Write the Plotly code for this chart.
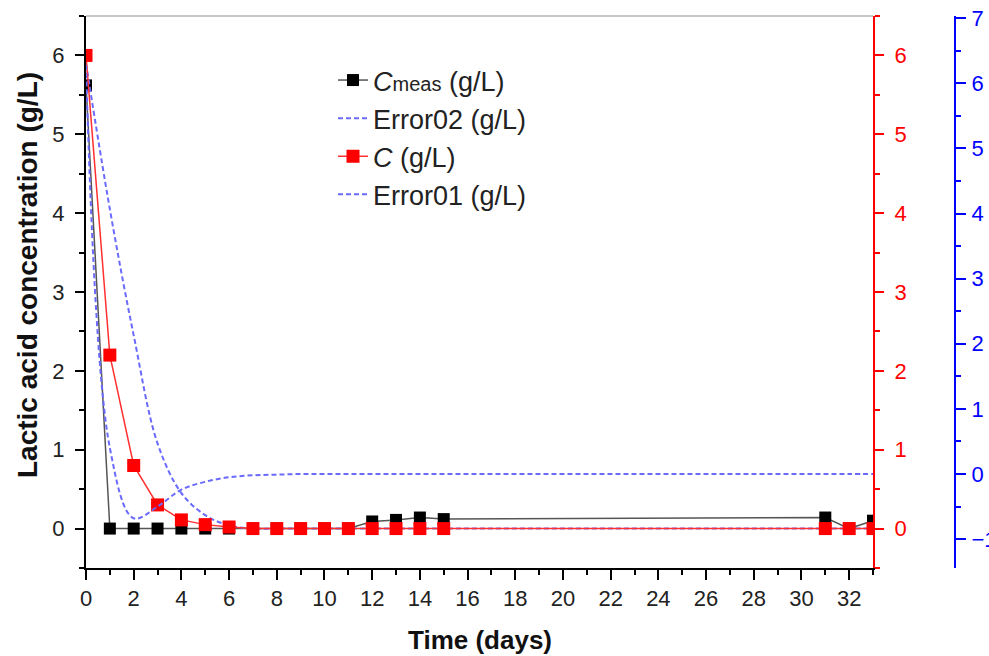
import plotly.graph_objects as go

# ---------------- data ----------------
days = [0, 1, 2, 3, 4, 5, 6, 7, 8, 9, 10, 11, 12, 13, 14, 15, 31, 32, 33]
c_meas = [5.62, 0, 0, 0, 0, 0, 0, 0, 0, 0, 0, 0, 0.09, 0.11, 0.14, 0.12, 0.14, 0, 0.10]
c_model = [6.0, 2.2, 0.8, 0.3, 0.11, 0.05, 0.02, 0, 0, 0, 0, 0, 0, 0, 0, 0, 0, 0, 0]

err_days = list(range(0, 34))
error02 = [5.9, 4.05, 2.45, 1.08, 0.45, 0.17, 0.04, 0.0, 0.0, 0.0,
           0, 0, 0, 0, 0, 0, 0, 0, 0, 0, 0, 0, 0, 0, 0, 0, 0, 0, 0, 0, 0, 0, 0, 0]
error01 = [6.28, 0.4, -0.68, -0.5, -0.24, -0.12, -0.05, -0.02, -0.01, 0.0,
           0, 0, 0, 0, 0, 0, 0, 0, 0, 0, 0, 0, 0, 0, 0, 0, 0, 0, 0, 0, 0, 0, 0, 0]

x_ticks = list(range(0, 34, 2))
left_ticks = [0, 1, 2, 3, 4, 5, 6]
blue_ticks = [-1, 0, 1, 2, 3, 4, 5, 6, 7]

# ---------------- figure ----------------
W, H = 989, 656
ML, MR, MT, MB = 86, 14, 16, 88
pw = W - ML - MR
ph = H - MT - MB
xdom_end = (873 - ML) / pw
blue_pos = (955 - ML) / pw

FONT = "Arial, Liberation Sans, sans-serif"
BLUE = "#6a6aff"

fig = go.Figure()

fig.add_trace(go.Scatter(
    x=days, y=c_meas, mode="lines+markers", name="<i>C</i><span style='font-size:20px'>meas</span> (g/L)",
    line=dict(color="#555555", width=1.5),
    marker=dict(symbol="square", size=12, color="black"),
    legendgroup="a", yaxis="y"))

fig.add_trace(go.Scatter(
    x=err_days, y=error02, mode="lines", name="Error02 (g/L)",
    line=dict(color=BLUE, width=2, dash="5px,3px", shape="spline"),
    legendgroup="b", yaxis="y"))

fig.add_trace(go.Scatter(
    x=days, y=c_model, mode="lines+markers", name="<i>C</i> (g/L)",
    line=dict(color="#ff3030", width=1.5),
    marker=dict(symbol="square", size=13, color="#ff0000"),
    legendgroup="c", yaxis="y2"))

fig.add_trace(go.Scatter(
    x=err_days, y=error01, mode="lines", name="Error01 (g/L)",
    line=dict(color=BLUE, width=2, dash="5px,3px", shape="spline"),
    legendgroup="d", yaxis="y3"))

tickfont = dict(family=FONT, size=22, color="#222222")

fig.update_layout(
    width=W, height=H,
    margin=dict(l=ML, r=MR, t=MT, b=MB, autoexpand=False),
    paper_bgcolor="white", plot_bgcolor="white",
    font=dict(family=FONT),
    showlegend=True,
    legend=dict(x=(333 - ML) / pw, y=1 - (56 - MT) / ph, xanchor="left", yanchor="top",
                font=dict(family=FONT, size=27, color="#222222"),
                bgcolor="rgba(0,0,0,0)", traceorder="grouped", tracegroupgap=0),
    xaxis=dict(domain=[0, xdom_end], range=[0, 33], tickvals=x_ticks,
               showgrid=False, zeroline=False, showline=True, linecolor="black", linewidth=2,
               ticks="outside", ticklen=10, tickwidth=2, tickcolor="black",
               minor=dict(dtick=1, ticks="outside", ticklen=5, tickwidth=2, tickcolor="black"),
               tickfont=tickfont, ticklabelstandoff=0, automargin=False),
    yaxis=dict(range=[-0.5, 6.5], tickvals=left_ticks,
               showgrid=False, zeroline=False, showline=True, linecolor="black", linewidth=2,
               ticks="outside", ticklen=9, tickwidth=2, tickcolor="black",
               minor=dict(dtick=0.5, ticks="outside", ticklen=5, tickwidth=2, tickcolor="black"),
               tickfont=tickfont, ticklabelstandoff=6, automargin=False),
    yaxis2=dict(range=[-0.5, 6.5], tickvals=left_ticks, overlaying="y", side="right", anchor="x",
                showgrid=False, zeroline=False, showline=True, linecolor="#ff0000", linewidth=2,
                ticks="outside", ticklen=9, tickwidth=2, tickcolor="#ff0000",
                minor=dict(dtick=0.5, ticks="outside", ticklen=5, tickwidth=2, tickcolor="#ff0000"),
                tickfont=dict(family=FONT, size=22, color="#ff0000"), ticklabelstandoff=6,
                automargin=False),
    yaxis3=dict(range=[-1.444, 7.035], tickvals=blue_ticks, overlaying="y", side="right",
                anchor="free", position=blue_pos,
                showgrid=False, zeroline=False, showline=True, linecolor="#0000ff", linewidth=2,
                ticks="outside", ticklen=10, tickwidth=2, tickcolor="#0000ff",
                minor=dict(dtick=0.5, ticks="outside", ticklen=5, tickwidth=2, tickcolor="#0000ff"),
                tickfont=dict(family=FONT, size=22, color="#0000ff"), ticklabelstandoff=1,
                automargin=False),
)

fig.add_shape(type="line", xref="paper", yref="paper", x0=0, x1=xdom_end, y0=1, y1=1,
              line=dict(color="#b5b5b5", width=1.5))

fig.add_annotation(text="<b>Time (days)</b>", xref="paper", yref="paper",
                   x=xdom_end / 2, y=-(640 - (H - MB)) / ph, xanchor="center", yanchor="middle",
                   showarrow=False, font=dict(family=FONT, size=26, color="#111111"))
fig.add_annotation(text="<b>Lactic acid concentration (g/L)</b>", xref="paper", yref="paper",
                   x=-(86 - 27) / pw, y=1 - (275 - MT) / ph, xanchor="center", yanchor="middle",
                   textangle=-90, showarrow=False, font=dict(family=FONT, size=28, color="#111111"))

fig.write_html("out.html", config={"displayModeBar": False},
               post_script="document.body.style.margin='0';document.body.style.overflow='hidden';")
